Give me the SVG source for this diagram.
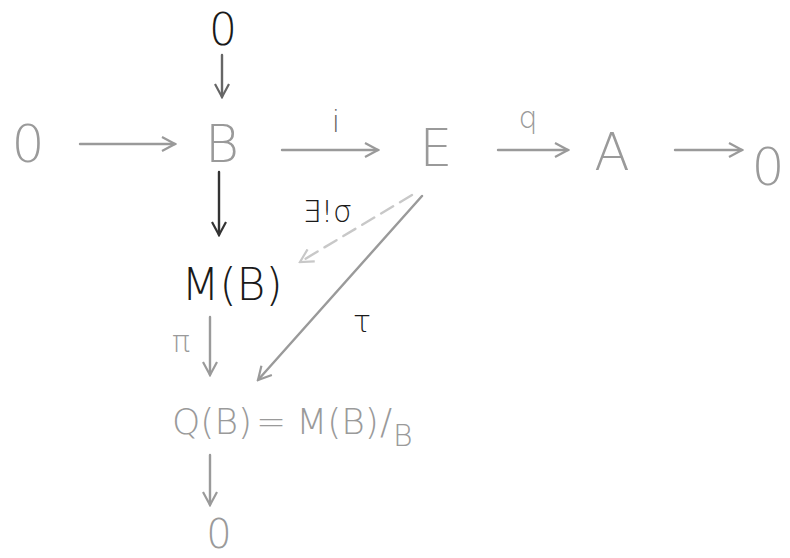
<svg xmlns="http://www.w3.org/2000/svg" width="790" height="558" viewBox="0 0 790 558">
<defs>
<marker id="ahd" viewBox="0 0 16 16" refX="14" refY="8" markerWidth="16" markerHeight="16" markerUnits="userSpaceOnUse" orient="auto">
<path d="M1,1 L14,8 L1,15" fill="none" stroke="context-stroke" stroke-width="2.2"/>
</marker>
</defs>
<style>
text{font-family:"DejaVu Sans","Liberation Sans",sans-serif;font-weight:300;}
.g{fill:#9a9a9a;}
.k{fill:#1a1a1a;}
.big{font-size:52px;}
.mid{font-size:44px;}
.lab{font-size:30px;}
.e{fill:none;stroke-width:2.4;stroke-linecap:round;}
.eg{stroke:#9a9a9a;}
.ek{stroke:#333333;}
</style>
<rect width="790" height="558" fill="#ffffff"/>
<g id="connectors">
<line class="e eg" x1="80" y1="144" x2="175" y2="144" marker-end="url(#ahd)"/>
<line class="e" stroke="#666" x1="222" y1="55" x2="222" y2="97" marker-end="url(#ahd)"/>
<line class="e eg" x1="282" y1="150" x2="378" y2="150" marker-end="url(#ahd)"/>
<line class="e eg" x1="498" y1="150" x2="568" y2="150" marker-end="url(#ahd)"/>
<line class="e eg" x1="675" y1="150" x2="742" y2="150" marker-end="url(#ahd)"/>
<line class="e ek" x1="219" y1="172" x2="219" y2="235" marker-end="url(#ahd)"/>
<line class="e" stroke="#c8c8c8" stroke-dasharray="14 8" x1="412" y1="195" x2="300" y2="262" marker-end="url(#ahd)"/>
<line class="e eg" x1="422" y1="196" x2="258" y2="380" marker-end="url(#ahd)"/>
<line class="e eg" x1="210" y1="317" x2="210" y2="375" marker-end="url(#ahd)"/>
<line class="e eg" x1="210" y1="455" x2="210" y2="505" marker-end="url(#ahd)"/>
</g>
<g id="n0left"><text class="g big" x="28" y="162" text-anchor="middle">0</text></g>
<g id="ntop"><text class="k mid" x="223" y="45" text-anchor="middle">0</text></g>
<g id="nB"><text class="g big" x="222" y="162" text-anchor="middle">B</text></g>
<g id="li"><text class="lab" x="336" y="132" text-anchor="middle" fill="#666">i</text></g>
<g id="nE"><text class="g big" x="436" y="166" text-anchor="middle">E</text></g>
<g id="lq"><text class="g lab" x="528" y="128" text-anchor="middle">q</text></g>
<g id="nA"><text class="g big" x="612" y="170" text-anchor="middle">A</text></g>
<g id="n0right"><text class="g big" x="768" y="185" text-anchor="middle">0</text></g>
<g id="lsigma"><text class="k lab" x="327" y="222" text-anchor="middle">∃!σ</text></g>
<g id="nMB"><text class="k mid" x="232" y="300" text-anchor="middle">M(B)</text></g>
<g id="ltau"><text class="k lab" x="362" y="332" text-anchor="middle">τ</text></g>
<g id="lpi"><text class="g lab" x="181" y="352" text-anchor="middle">π</text></g>
<g id="nQB">
<text class="g" x="172" y="434" font-size="36">Q(B)<tspan dx="4">=</tspan><tspan dx="10">M(B)</tspan><tspan dx="1">/</tspan><tspan dx="1" dy="12" font-size="30">B</tspan></text>
</g>
<g id="n0bottom"><text class="g" x="219" y="548" font-size="40" text-anchor="middle">0</text></g>
</svg>
